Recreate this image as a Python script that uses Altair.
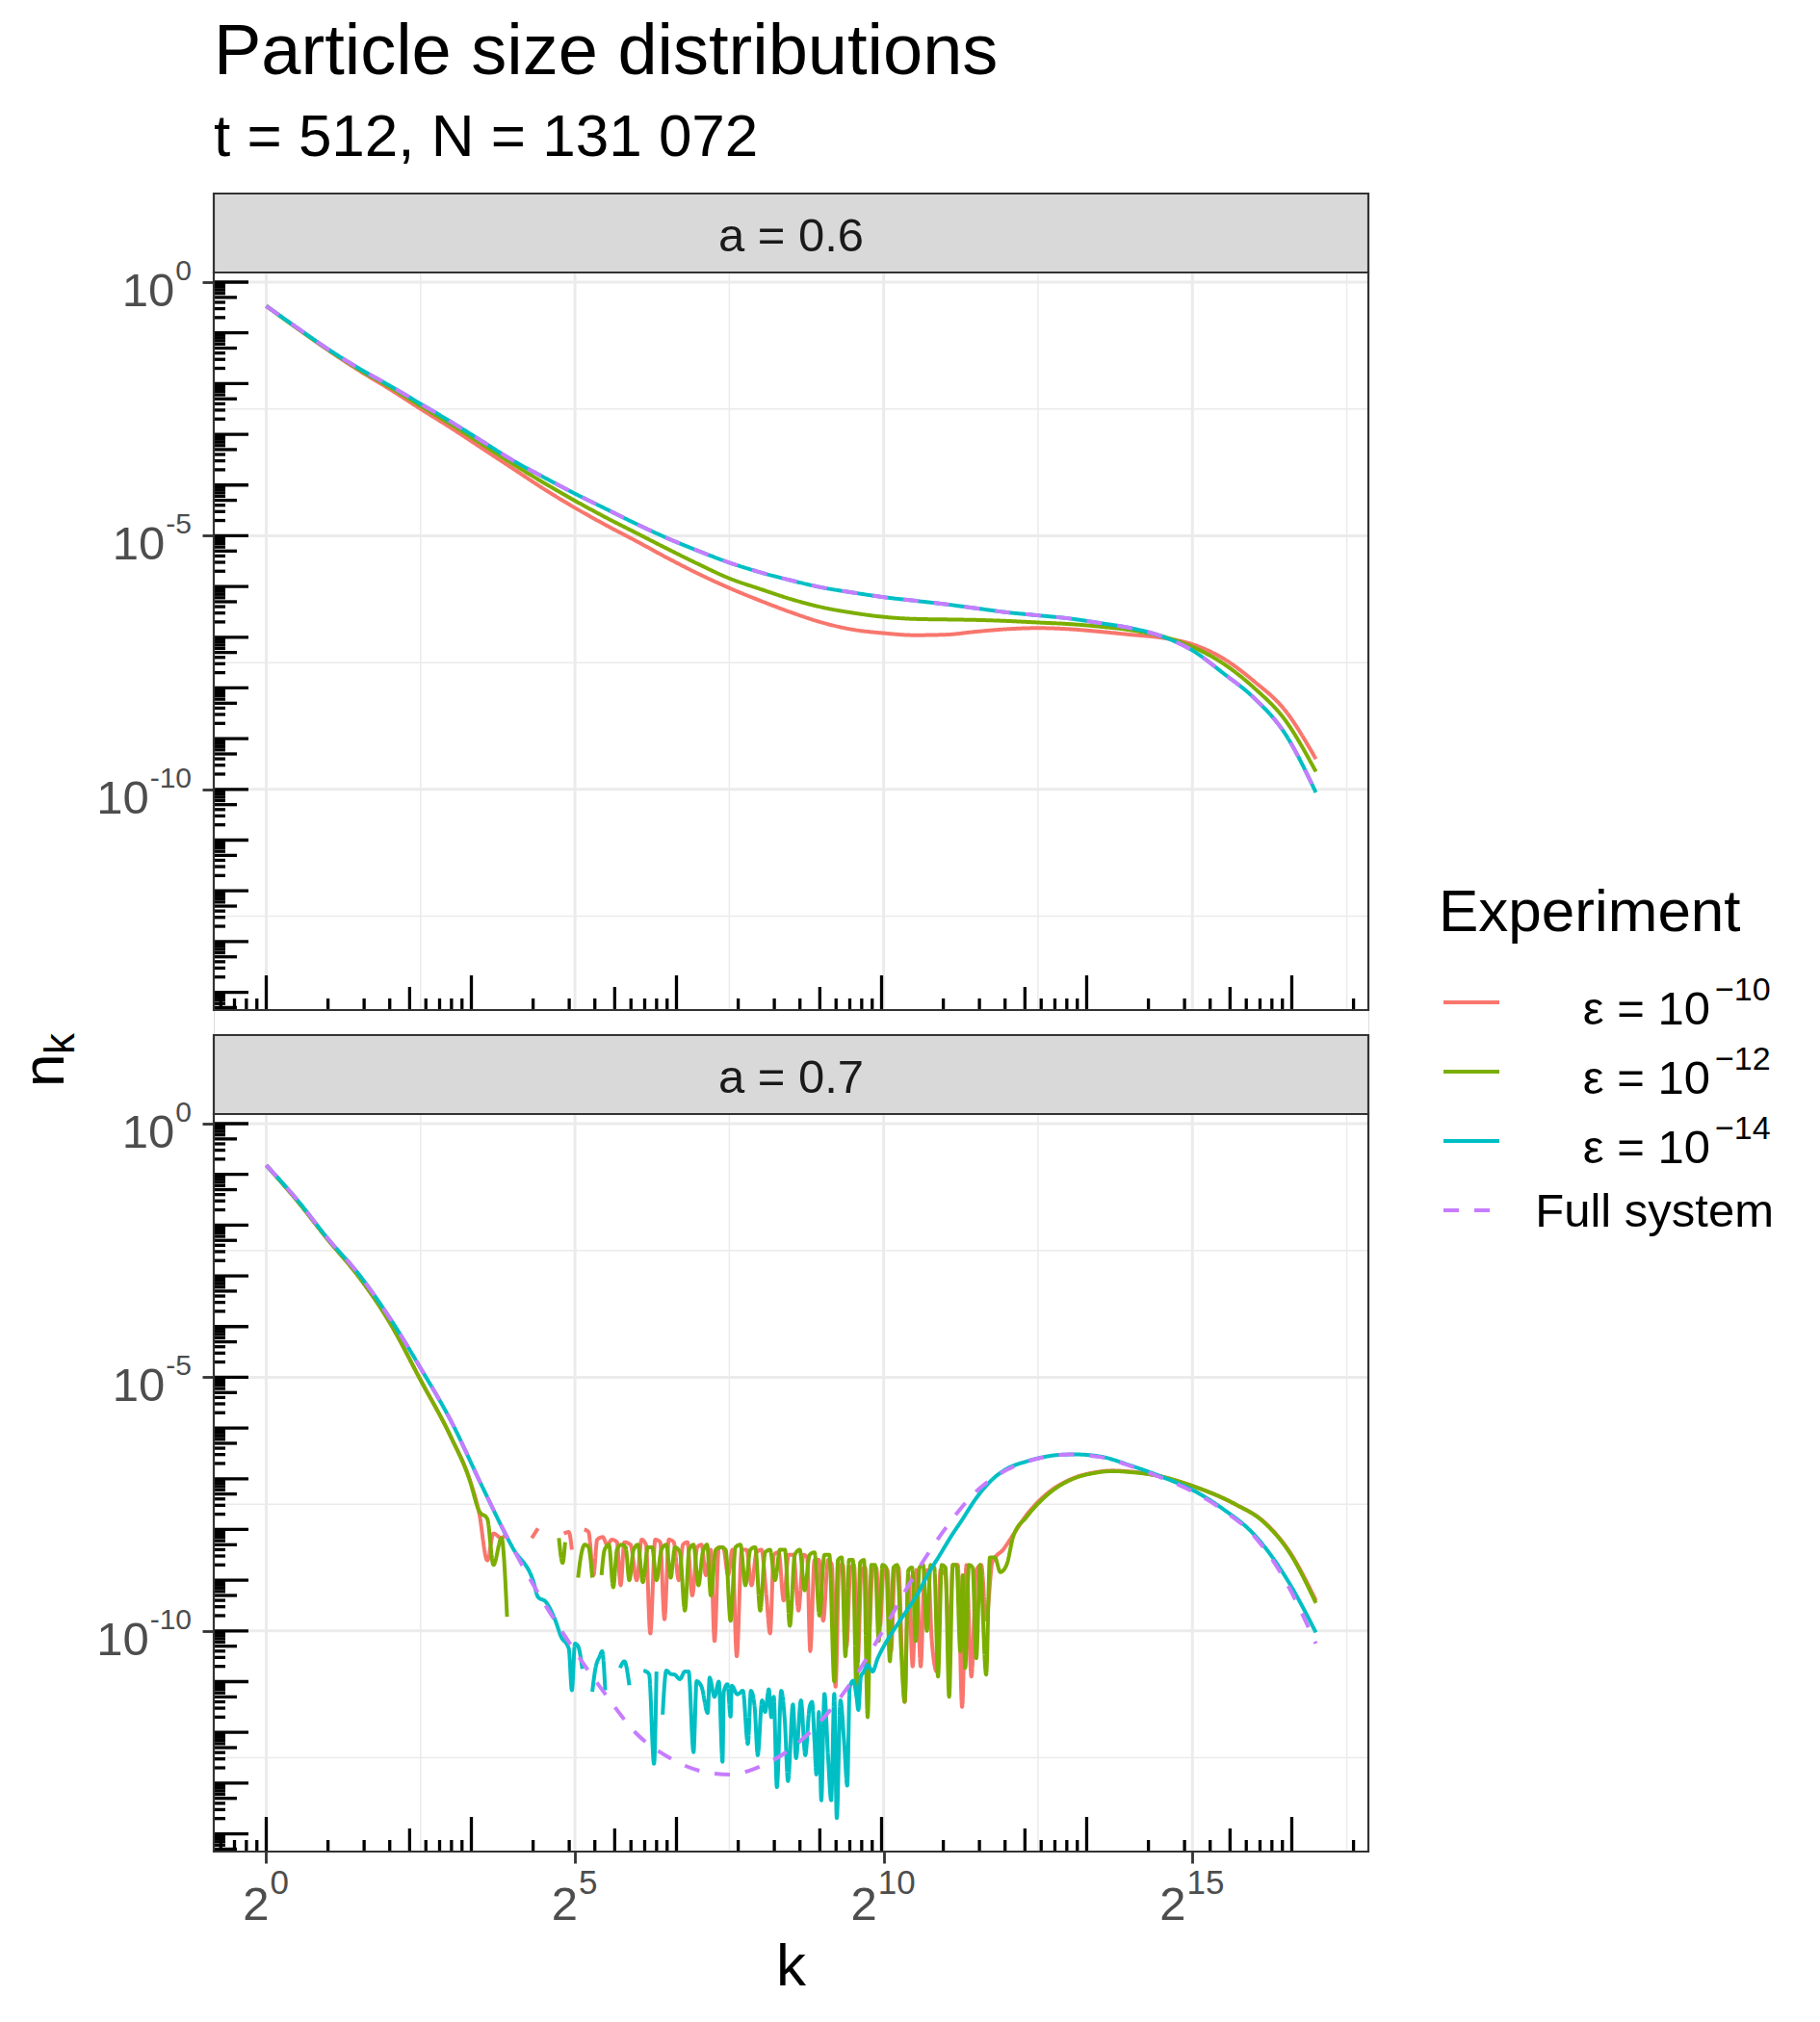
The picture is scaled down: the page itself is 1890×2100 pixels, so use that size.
import altair as alt
import pandas as pd

FONT = "Liberation Sans"

# ---------------- series / legend ----------------
SERIES = ["eps10", "eps12", "eps14", "full"]
SERIES_COLORS = ["#F8766D", "#7CAE00", "#00BFC4", "#C77CFF"]
SERIES_DASH = [[1, 0], [1, 0], [1, 0], [16, 16]]
LEGEND_TITLE = "Experiment"
LEGEND_BASE = ["ε = 10", "ε = 10", "ε = 10", "Full system"]
LEGEND_SUP = ["−10", "−12", "−14", ""]
PANEL_LABELS = ["a = 0.6", "a = 0.7"]
TITLE = "Particle size distributions"
SUBTITLE = "t = 512, N = 131 072"

# ---------------- axes ----------------
X_TICKS = [1, 32, 1024, 32768]
X_LABEL_BASE = ["2", "2", "2", "2"]
X_LABEL_SUP = ["0", "5", "10", "15"]
X_MINOR_EXP = [2.5, 7.5, 12.5, 17.5]
Y_TICKS = [1, 1e-5, 1e-10]
Y_LABEL_BASE = ["10", "10", "10"]
Y_LABEL_SUP = ["0", "-5", "-10"]
Y_MINOR_EXP = [-2.5, -7.5, -12.5]
X_DOMAIN_EXP = [-0.85, 17.85]   # log2
Y_DOMAIN_EXP = [-14.35, 0.19]   # log10
LOGTICK_MULT = [1, 2, 3, 4, 5, 6, 7, 8, 9]
Y_DECADES = list(range(-15, 1))
X_DECADES = list(range(-1, 6))

# ---------------- data (log2 k, log10 n_k) ----------------
# a = 0.6
TOP_LOG2K = [0, 0.5, 1, 1.5, 2, 2.5, 3, 3.5, 4, 4.5, 5, 5.5, 6, 6.5, 7, 7.5, 8, 8.5, 9, 9.5,
             10, 10.5, 11, 11.5, 12, 12.5, 13, 13.5, 14, 14.5, 15, 15.5, 16, 16.5, 17]
TOP_EPS10 = [-0.47, -0.91, -1.34, -1.74, -2.11, -2.50, -2.88, -3.28, -3.68, -4.08, -4.45, -4.79,
             -5.11, -5.44, -5.75, -6.03, -6.28, -6.51, -6.71, -6.85, -6.92, -6.96, -6.95, -6.89,
             -6.84, -6.82, -6.84, -6.89, -6.95, -7.01, -7.14, -7.42, -7.87, -8.44, -9.40]
TOP_EPS12 = [-0.47, -0.91, -1.33, -1.72, -2.07, -2.44, -2.81, -3.20, -3.59, -3.96, -4.31, -4.64,
             -4.95, -5.26, -5.56, -5.84, -6.05, -6.25, -6.41, -6.52, -6.60, -6.64, -6.65, -6.66,
             -6.68, -6.71, -6.74, -6.79, -6.86, -6.98, -7.19, -7.52, -8.00, -8.63, -9.65]
TOP_EPS14 = [-0.47, -0.90, -1.32, -1.70, -2.04, -2.40, -2.76, -3.14, -3.52, -3.85, -4.17, -4.47,
             -4.77, -5.05, -5.30, -5.53, -5.72, -5.88, -6.02, -6.12, -6.21, -6.28, -6.35, -6.43,
             -6.51, -6.57, -6.63, -6.72, -6.82, -6.98, -7.26, -7.71, -8.20, -8.90, -10.06]
TOP_FULL = [-0.47, -0.90, -1.32, -1.70, -2.04, -2.40, -2.76, -3.14, -3.52, -3.85, -4.17, -4.47,
            -4.77, -5.05, -5.30, -5.53, -5.72, -5.88, -6.02, -6.12, -6.21, -6.28, -6.35, -6.43,
            -6.51, -6.57, -6.63, -6.72, -6.82, -6.98, -7.26, -7.71, -8.20, -8.90, -10.06]

# a = 0.7
BOT_FULL_LOG2K = TOP_LOG2K
BOT_FULL = [-0.82, -1.50, -2.27, -2.97, -3.83, -4.82, -5.88, -7.16, -8.38, -9.45, -10.40, -11.26,
            -12.03, -12.48, -12.75, -12.83, -12.67, -12.32, -11.75, -10.97, -9.97, -8.90, -7.98,
            -7.25, -6.82, -6.60, -6.52, -6.57, -6.75, -6.98, -7.25, -7.62, -8.13, -9.00, -10.25]

BOT_EPS10_LOG2K = [0, 0.5, 1, 1.5, 2, 2.5, 3, 3.29, 3.45, 3.58, 3.68, 3.81, 3.86, 3.95, 4.30, 4.40,
                   4.60, 4.82, 4.90, 4.95, 5.05,
                   5.15, 5.22, 5.30, 5.36, 5.45, 5.52, 5.60, 5.68, 5.74, 5.80, 5.90, 6.00, 6.08,
                   6.15, 6.22, 6.30, 6.38, 6.45, 6.52, 6.60, 6.68, 6.75, 6.82, 6.90, 6.98, 7.05,
                   7.12, 7.20, 7.26, 7.33, 7.40, 7.48, 7.55, 7.62, 7.70, 7.78, 7.86, 7.94, 8.02,
                   8.10, 8.16, 8.22, 8.30, 8.38, 8.46, 8.54, 8.62, 8.70, 8.76, 8.81, 8.88, 8.95,
                   9.02, 9.10, 9.16, 9.22, 9.28, 9.34, 9.40, 9.46, 9.52, 9.58, 9.64, 9.70, 9.76,
                   9.82, 9.88, 9.94, 10.00, 10.06, 10.12, 10.18, 10.24, 10.30, 10.34, 10.40,
                   10.47, 10.53, 10.60, 10.66, 10.72, 10.78, 10.86, 10.92, 11.00, 11.06, 11.12,
                   11.20, 11.27, 11.34, 11.42, 11.50, 11.58, 11.66, 11.76, 11.94, 12.10, 12.31,
                   12.62, 13.09, 13.40, 13.71, 14.00, 14.39, 15.02, 15.69, 16.16, 16.58, 17.00]
BOT_EPS10 = [-0.82, -1.52, -2.29, -3.02, -3.92, -5.05, -6.20, -7.00, -7.69, -8.61, -8.08, -8.17,
             -8.12, None, -8.17, -7.98, None, -8.08, -8.05, -8.40, None,
             -8.00, -8.05, -8.90, -8.20, -8.15, -8.30, -8.20, -8.25, -9.10, -8.25, -8.30, -9.00,
             -8.20, -8.30, -10.05, -8.20, -8.25, -9.77, -8.20, -8.25, -9.00, -8.30, -8.25, -9.30,
             -8.35, -8.30, -8.90, -8.40, -10.20, -8.35, -8.35, -8.90, -8.40, -10.50, -8.40,
             -8.40, -9.10, -8.45, -8.40, -9.30, -10.05, -8.50, -8.45, -9.40, -8.50, -8.50, -9.60,
             -8.50, -8.55, -10.40, -8.60, -8.60, -9.80, -8.60, -8.70, -11.10, -8.70, -8.70,
             -10.30, -8.80, -8.70, -10.60, -8.80, -8.75, -10.10, -8.80, -8.75, -9.90, -8.80,
             -8.80, -10.40, -8.80, -8.75, -10.60, -11.40, -8.90, -10.70, -8.80, -10.70, -8.85,
             -8.80, -10.20, -10.80, -8.80, -8.90, -10.30, -8.70, -8.70, -11.50, -8.70, -10.90,
             -8.80, -8.70, -9.78, -8.64, -8.39, -8.10, -7.72, -7.32, -6.98, -6.88, -6.84, -6.86,
             -6.93, -7.15, -7.50, -7.85, -8.45, -9.40]

BOT_EPS12_LOG2K = [0, 0.5, 1, 1.5, 2, 2.5, 3, 3.29, 3.45, 3.58, 3.68, 3.81, 3.90, 4.20, 4.74,
                   4.80, 4.84, 4.95, 5.05, 5.10, 5.16, 5.22, 5.28, 5.35, 5.43, 5.48, 5.55, 5.62,
                   5.68, 5.75, 5.82, 5.88, 5.95, 6.02, 6.10, 6.18, 6.25, 6.32, 6.40, 6.48, 6.55,
                   6.62, 6.70, 6.78, 6.85, 6.92, 7.00, 7.07, 7.14, 7.20, 7.28, 7.36, 7.44, 7.52,
                   7.60, 7.68, 7.76, 7.84, 7.92, 8.00, 8.08, 8.16, 8.24, 8.32, 8.40, 8.48, 8.56,
                   8.64, 8.72, 8.80, 8.88, 8.96, 9.04, 9.12, 9.20, 9.26, 9.32, 9.38, 9.44, 9.50,
                   9.56, 9.62, 9.68, 9.74, 9.80, 9.86, 9.92, 9.98, 10.04, 10.10, 10.16, 10.22,
                   10.28, 10.34, 10.40, 10.46, 10.52, 10.58, 10.64, 10.70, 10.76, 10.82, 10.88,
                   10.94, 11.00, 11.06, 11.12, 11.18, 11.24, 11.28, 11.32, 11.38, 11.44, 11.50,
                   11.56, 11.66, 11.72, 11.80, 11.89, 11.99, 12.10, 12.31, 12.62, 13.09, 13.40,
                   13.71, 14.00, 14.39, 15.02, 15.69, 16.16, 16.58, 17.00]
BOT_EPS12 = [-0.82, -1.52, -2.29, -3.02, -3.92, -5.06, -6.20, -7.01, -7.64, -7.79, -8.70, -8.17,
             -9.72, None, -8.17, -8.66, -8.25, None, -8.95, -8.50, -8.30, -8.35, -8.95, None,
             -8.90, -8.40, -8.30, -9.14, -8.40, -8.30, -8.35, -9.00, -8.40, -8.30, -9.04, -8.35,
             -8.35, -9.00, -8.40, -8.30, -8.95, -8.35, -8.45, -9.60, -8.40, -8.30, -9.10, -8.45,
             -8.30, -9.30, -8.40, -8.35, -8.40, -9.80, -8.35, -8.30, -9.10, -8.40, -8.35, -9.60,
             -8.45, -8.40, -9.00, -8.40, -8.40, -9.90, -8.50, -8.40, -9.20, -8.50, -8.45, -9.70,
             -8.50, -8.50, -11.00, -8.60, -8.55, -10.50, -8.60, -8.60, -11.20, -8.65, -8.60,
             -11.70, -8.70, -8.70, -10.20, -8.70, -8.75, -10.60, -8.75, -8.70, -10.30, -11.40,
             -8.80, -8.75, -10.20, -8.75, -8.70, -10.00, -8.70, -8.75, -10.90, -8.70, -8.75,
             -11.30, -8.70, -8.70, -10.40, -8.90, -10.73, -8.70, -8.75, -10.54, -8.70, -10.86,
             -8.55, -8.55, -8.84, -8.70, -8.13, -7.76, -7.35, -6.99, -6.89, -6.85, -6.87, -6.93,
             -7.15, -7.50, -7.86, -8.47, -9.45]

BOT_EPS14_LOG2K = [0, 0.5, 1, 1.5, 2, 2.5, 3, 3.5, 4, 4.33, 4.40, 4.53, 4.69, 4.77, 4.90, 4.95,
                   5.00, 5.05, 5.12, 5.20, 5.28, 5.33, 5.40, 5.44, 5.49, 5.60, 5.73, 5.80, 5.88,
                   6.00, 6.11, 6.20, 6.28, 6.32, 6.37, 6.42, 6.48, 6.55, 6.61, 6.70, 6.78, 6.84,
                   6.92, 6.97, 7.05, 7.15, 7.18, 7.26, 7.33, 7.39, 7.41, 7.47, 7.52, 7.54, 7.63,
                   7.72, 7.80, 7.85, 7.91, 7.96, 8.03, 8.08, 8.14, 8.18, 8.22, 8.27, 8.34, 8.40,
                   8.45, 8.53, 8.58, 8.66, 8.73, 8.80, 8.84, 8.88, 8.91, 8.95, 8.99, 9.04, 9.10,
                   9.15, 9.20, 9.24, 9.30, 9.36, 9.41, 9.45, 9.51, 9.56, 9.59, 9.63, 9.67, 9.74,
                   9.82, 9.90, 9.98, 10.10, 10.24, 10.40, 10.55, 10.70, 10.91, 11.10, 11.27,
                   11.50, 11.79, 12.00, 12.31, 12.60, 12.83, 13.10, 13.50, 14.00, 14.50, 15.00,
                   15.50, 16.00, 16.50, 17.00]
BOT_EPS14 = [-0.82, -1.50, -2.27, -2.97, -3.83, -4.82, -5.88, -7.16, -8.38, -9.04, -9.33, -9.43,
             -9.82, -10.10, -10.35, -11.17, -10.25, -10.30, -10.75, None, -11.20, -10.75, -10.50,
             -10.40, -11.17, None, -10.73, -10.60, -11.07, None, -10.78, -10.85, -12.62, -10.80,
             None, -11.65, -10.78, -10.85, -10.86, -10.95, -10.80, -10.80, -12.39, -10.99,
             -11.10, -11.62, -10.92, -11.30, -11.00, -12.58, -11.20, -11.05, -11.69, -11.08,
             -11.25, -11.18, -12.23, -11.18, -11.50, -12.45, -11.37, -11.60, -11.15, -11.70,
             -11.30, -13.08, -11.18, -11.80, -12.96, -11.45, -12.51, -11.37, -12.45, -11.50,
             -11.40, -12.20, -12.83, -11.60, -13.34, -11.24, -12.50, -13.34, -11.24, -13.69,
             -11.37, -12.20, -13.05, -11.11, -10.98, -11.30, -11.56, -10.90, -10.82, -10.67,
             -10.80, -10.55, -10.35, -10.10, -9.84, -9.55, -9.27, -8.92, -8.50, -8.12, -7.81,
             -7.38, -6.98, -6.80, -6.66, -6.57, -6.53, -6.52, -6.56, -6.74, -6.96, -7.22, -7.60,
             -8.10, -8.92, -10.03]

# ---------------- build tables ----------------
def series_rows(panel, series, xs, ys):
    rows = []
    for i, (x, y) in enumerate(zip(xs, ys)):
        rows.append({"panel": panel, "series": series, "idx": i, "k": 2.0 ** x,
                     "n": (10.0 ** y) if y is not None else None})
    return rows

top_rows = (series_rows(0, "eps10", TOP_LOG2K, TOP_EPS10) + series_rows(0, "eps12", TOP_LOG2K, TOP_EPS12)
            + series_rows(0, "eps14", TOP_LOG2K, TOP_EPS14) + series_rows(0, "full", TOP_LOG2K, TOP_FULL))
bot_rows = (series_rows(1, "eps10", BOT_EPS10_LOG2K, BOT_EPS10) + series_rows(1, "eps12", BOT_EPS12_LOG2K, BOT_EPS12)
            + series_rows(1, "eps14", BOT_EPS14_LOG2K, BOT_EPS14) + series_rows(1, "full", BOT_FULL_LOG2K, BOT_FULL))
PANEL_DATA = [pd.DataFrame(top_rows), pd.DataFrame(bot_rows)]

XMIN, XMAX = 2.0 ** X_DOMAIN_EXP[0], 2.0 ** X_DOMAIN_EXP[1]
YMIN, YMAX = 10.0 ** Y_DOMAIN_EXP[0], 10.0 ** Y_DOMAIN_EXP[1]

def logtick_frame(decades, lo, hi):
    rows = []
    for d in decades:
        for m in LOGTICK_MULT:
            v = m * 10.0 ** d
            if lo <= v <= hi:
                kind = "long" if m == 1 else ("mid" if m == 5 else "short")
                rows.append({"v": v, "kind": kind})
    return pd.DataFrame(rows)

YTICK_DF = logtick_frame(Y_DECADES, YMIN, YMAX)
XTICK_DF = logtick_frame(X_DECADES, XMIN, XMAX)
TICK_LEN = {"long": 36, "mid": 24, "short": 12}

# ---------------- layout (pixels inside the plot group) ----------------
W = 1199
H = 1722
PANEL_RANGES = [[848, 82], [1722, 956]]
STRIP_TOPS = [0, 874]
STRIP_H = 82
LINE_W = 4.0
LABEL_COLOR = "#4D4D4D"

# approximate glyph advance widths (em) for placing superscripts
CHAR_EM = {"-": 0.333, "−": 0.584}
def text_w(s, size):
    return sum(CHAR_EM.get(c, 0.556) for c in s) * size

XSCALE = alt.Scale(type="log", base=2, domain=[XMIN, XMAX], nice=False)
one = pd.DataFrame({"o": [0]})


def lab(t, size, align, color=LABEL_COLOR, dx=0, dy=0):
    return alt.Chart(pd.DataFrame({"t": [t]})).mark_text(
        fontSize=size, align=align, baseline="alphabetic", color=color, font=FONT, dx=dx, dy=dy)


def panel(p, with_x_labels):
    yscale = alt.Scale(type="log", domain=[YMIN, YMAX], nice=False, range=PANEL_RANGES[p])
    yaxis = alt.Axis(orient="left", values=Y_TICKS, labels=False, tickColor="#333333", tickSize=12,
                     tickWidth=2.8, domain=False, grid=False)
    xaxis = alt.Axis(values=X_TICKS, labels=False, tickColor="#333333", tickSize=12, tickWidth=2.8,
                     domain=False, grid=False)
    layers = []
    # minor grid
    layers.append(alt.Chart(pd.DataFrame({"g": [10.0 ** e for e in Y_MINOR_EXP]})).mark_rule(
        color="#EBEBEB", strokeWidth=1.5).encode(
        y=alt.Y("g:Q", scale=yscale, title=None), x=alt.datum(XMIN, scale=XSCALE), x2=alt.datum(XMAX)))
    layers.append(alt.Chart(pd.DataFrame({"g": [2.0 ** e for e in X_MINOR_EXP]})).mark_rule(
        color="#EBEBEB", strokeWidth=1.5).encode(
        x=alt.X("g:Q", scale=XSCALE, title=None), y=alt.datum(YMAX), y2=alt.datum(YMIN)))
    # major grid
    layers.append(alt.Chart(pd.DataFrame({"g": Y_TICKS})).mark_rule(
        color="#EBEBEB", strokeWidth=3).encode(
        y=alt.Y("g:Q", title=None), x=alt.datum(XMIN), x2=alt.datum(XMAX)))
    layers.append(alt.Chart(pd.DataFrame({"g": X_TICKS})).mark_rule(
        color="#EBEBEB", strokeWidth=3).encode(
        x=alt.X("g:Q", title=None), y=alt.datum(YMAX), y2=alt.datum(YMIN)))
    # data lines
    layers.append(alt.Chart(PANEL_DATA[p]).mark_line(
        strokeWidth=LINE_W, interpolate="monotone", invalid="break-paths-filter-domains").encode(
        x=alt.X("k:Q", scale=XSCALE, axis=xaxis, title=None),
        y=alt.Y("n:Q", scale=yscale, axis=yaxis, title=None),
        color=alt.Color("series:N", scale=alt.Scale(domain=SERIES, range=SERIES_COLORS), legend=None),
        strokeDash=alt.StrokeDash("series:N", scale=alt.Scale(domain=SERIES, range=SERIES_DASH), legend=None),
        order=alt.Order("idx:Q"),
    ))
    # log ticks (left and bottom)
    for kind, L in TICK_LEN.items():
        ydf = YTICK_DF[YTICK_DF.kind == kind]
        layers.append(alt.Chart(ydf).mark_rule(color="black", strokeWidth=3.3, x2Offset=L).encode(
            y=alt.Y("v:Q", title=None), x=alt.datum(XMIN), x2=alt.datum(XMIN)))
        xdf = XTICK_DF[XTICK_DF.kind == kind]
        layers.append(alt.Chart(xdf).mark_rule(color="black", strokeWidth=3.3, y2Offset=-L).encode(
            x=alt.X("v:Q", title=None), y=alt.datum(YMIN), y2=alt.datum(YMIN)))
    # panel border
    layers.append(alt.Chart(one).mark_rect(fillOpacity=0, stroke="#333333", strokeWidth=2.2).encode(
        x=alt.datum(XMIN), x2=alt.datum(XMAX), y=alt.datum(YMAX), y2=alt.datum(YMIN)))
    # strip
    layers.append(alt.Chart(one).mark_rect(fill="#D9D9D9", stroke="#333333", strokeWidth=2.2).encode(
        x=alt.datum(XMIN), x2=alt.datum(XMAX),
        y=alt.value(STRIP_TOPS[p]), y2=alt.value(STRIP_TOPS[p] + STRIP_H)))
    layers.append(lab(PANEL_LABELS[p], 49, "center", color="#1A1A1A").encode(
        x=alt.value(W / 2), y=alt.value(STRIP_TOPS[p] + 60), text="t:N"))
    # y tick labels: "10" with a raised exponent, right-aligned as a whole
    for v, base, sup in zip(Y_TICKS, Y_LABEL_BASE, Y_LABEL_SUP):
        sw = text_w(sup, 30)
        layers.append(lab(sup, 30, "right", dy=-2).encode(
            x=alt.value(-23), y=alt.datum(v), text="t:N"))
        layers.append(lab(base, 49, "right", dy=25).encode(
            x=alt.value(-23 - sw - 1), y=alt.datum(v), text="t:N"))
    # x tick labels under the bottom panel: "2" with a raised exponent, centred as a whole
    if with_x_labels:
        for v, base, sup in zip(X_TICKS, X_LABEL_BASE, X_LABEL_SUP):
            bw = text_w(base, 49)
            sw = text_w(sup, 35)
            whole = bw + 2 + sw
            layers.append(lab(base, 49, "left", dx=-whole / 2).encode(
                x=alt.datum(v), y=alt.value(H + 71), text="t:N"))
            layers.append(lab(sup, 35, "left", dx=-whole / 2 + bw + 1).encode(
                x=alt.datum(v), y=alt.value(H + 44), text="t:N"))
    return alt.layer(*layers)


def text_layer(t, x, y, size, align="left", angle=0, color="black"):
    return alt.Chart(pd.DataFrame({"t": [t]})).mark_text(
        fontSize=size, align=align, baseline="alphabetic", angle=angle, color=color, font=FONT).encode(
        x=alt.value(x), y=alt.value(y), text="t:N")


deco = [
    text_layer(TITLE, 0, -124, 74),
    text_layer(SUBTITLE, 0, -39, 62),
    text_layer("n", -156, 928, 62, angle=270),
    text_layer("k", -145, 894, 44, angle=270),
    text_layer("k", W / 2, 1861, 62, align="center"),
    text_layer(LEGEND_TITLE, 1272, 766, 62),
]
for i in range(len(SERIES)):
    yrow = 840 + 72 * i
    deco.append(alt.Chart(one).mark_rule(color=SERIES_COLORS[i], strokeWidth=LINE_W,
                                          strokeDash=SERIES_DASH[i]).encode(
        x=alt.value(1277), x2=alt.value(1335), y=alt.value(yrow)))
    if LEGEND_SUP[i]:
        deco.append(text_layer(LEGEND_BASE[i], 1554, yrow + 23, 49, align="right"))
        deco.append(text_layer(LEGEND_SUP[i], 1559, yrow - 2, 34, align="left"))
    else:
        deco.append(text_layer(LEGEND_BASE[i], 1620, yrow + 17, 49, align="right"))

chart = alt.layer(panel(0, False), panel(1, True), *deco).resolve_scale(y="independent").properties(
    width=W, height=H, padding={"left": 8, "top": 10, "right": 10, "bottom": 10}
).configure_view(strokeWidth=0).configure(font=FONT, background="white")

chart.save("out.html", embed_options={"renderer": "svg", "actions": False})
